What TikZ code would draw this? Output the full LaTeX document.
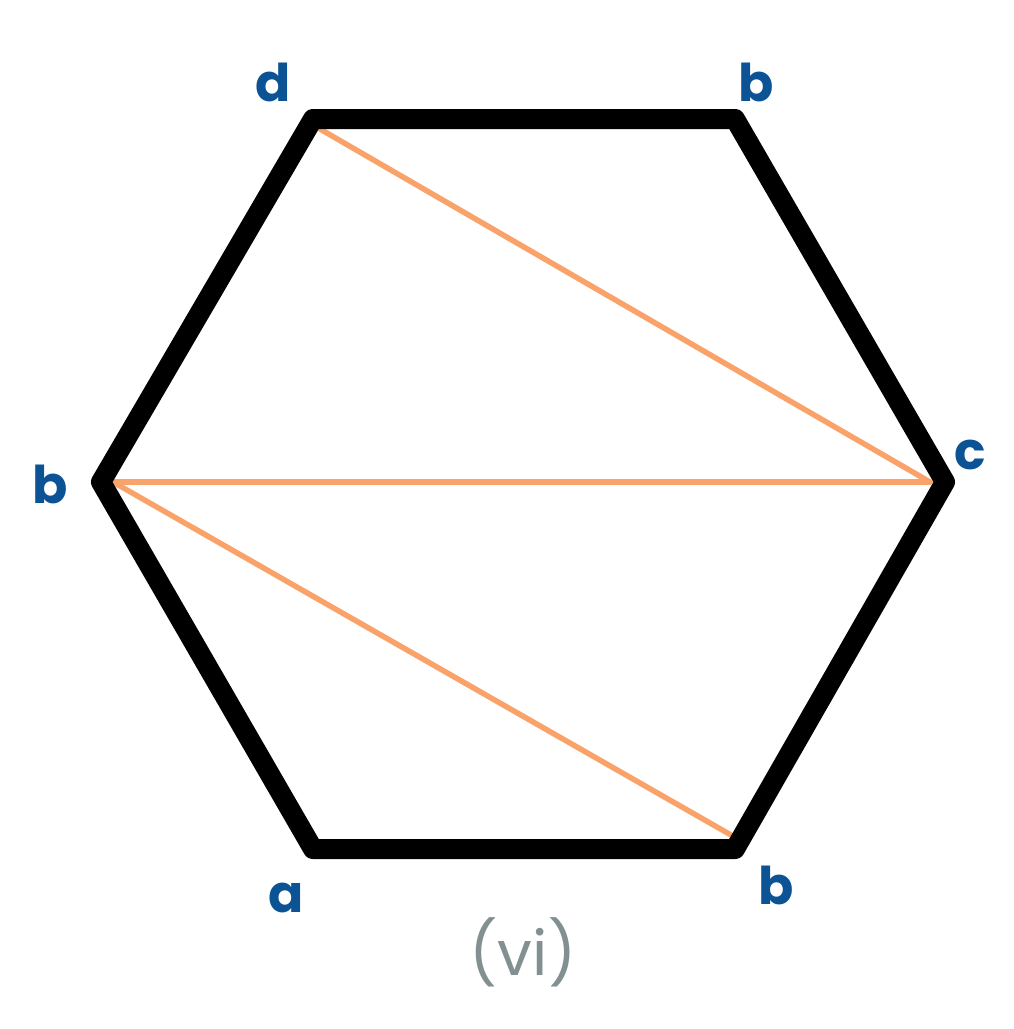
\documentclass[tikz,border=0pt]{standalone}
\usepackage{fontspec}
\setmainfont{Poppins}
\definecolor{lblblue}{HTML}{0B5394}
\definecolor{diag}{HTML}{F9A36A}
\definecolor{capgray}{HTML}{839092}
\begin{document}
\begin{tikzpicture}[x=1pt,y=-1pt,
  hexedge/.style={line width=20pt,line join=round,black},
  diagline/.style={line width=5.5pt,diag,line cap=round},
  vlabel/.style={text=lblblue,font=\fontsize{52}{52}\selectfont\bfseries,inner sep=0pt},
  caplabel/.style={text=capgray,font=\fontsize{62}{62}\selectfont,inner sep=0pt}]
\useasboundingbox (0,0) rectangle (1014,1029);
\coordinate (TL) at (313,119);
\coordinate (TR) at (735,119);
\coordinate (R) at (945,482);
\coordinate (BR) at (735,849);
\coordinate (BL) at (313,849);
\coordinate (L) at (101,482);
\coordinate (d1) at (320,129);
\coordinate (c1) at (930,482);
\coordinate (b1) at (113,482);
\coordinate (b2) at (731,835);
\draw[diagline] (d1) -- (c1);
\draw[diagline] (b1) -- (c1);
\draw[diagline] (b1) -- (b2);
\draw[hexedge] (TL) -- (TR) -- (R) -- (BR) -- (BL) -- (L) -- cycle;
\node[vlabel] (ld) at (273,82) {d};
\node[vlabel] (lb1) at (756,82) {b};
\node[vlabel] (lc) at (970,455) {c};
\node[vlabel] (lb2) at (50,484) {b};
\node[vlabel] (la) at (286,898) {a};
\node[vlabel] (lb3) at (776,885) {b};
\node[caplabel] (cap) at (523,952) {(vi)};
\end{tikzpicture}
\end{document}
